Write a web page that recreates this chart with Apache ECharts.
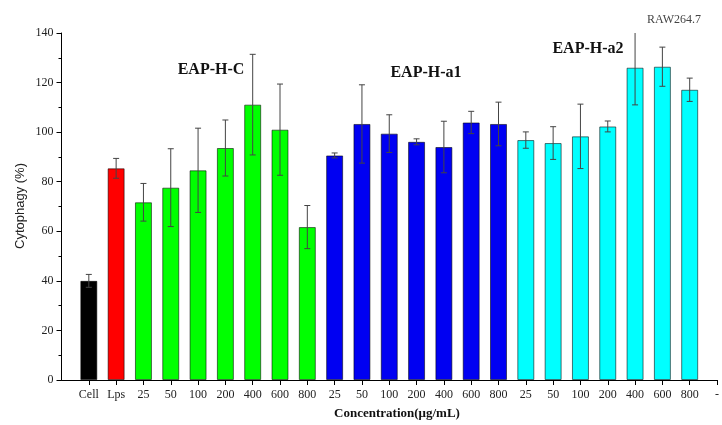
<!DOCTYPE html>
<html>
<head>
<meta charset="utf-8">
<script src="https://cdn.jsdelivr.net/npm/echarts@6/dist/echarts.min.js"></script>
<style>
  html, body { margin: 0; padding: 0; background: #fff; }
  #chart { width: 722px; height: 425px; }
</style>
</head>
<body>
<div id="chart"></div>
<script>
// Concentration categories (leading blank slot sits on the y axis, trailing "-" at the right edge)
const categories = ['', 'Cell', 'Lps',
  '25', '50', '100', '200', '400', '600', '800',
  '25', '50', '100', '200', '400', '600', '800',
  '25', '50', '100', '200', '400', '600', '800', '-'];

// Mean cytophagy (%) and standard deviation per group
const controlMean = [40, 85.4];
const controlErr  = [2.6, 4];
const eapHCMean   = [71.7, 77.6, 84.6, 93.6, 111.1, 101, 61.7];
const eapHCErr    = [7.6, 15.7, 17, 11.3, 20.3, 18.4, 8.7];
const eapHa1Mean  = [90.6, 103.3, 99.4, 96.1, 94, 103.9, 103.3];
const eapHa1Err   = [1, 15.8, 7.6, 1.2, 10.4, 4.5, 8.8];
const eapHa2Mean  = [96.8, 95.6, 98.3, 102.3, 126, 126.4, 117.1];
const eapHa2Err   = [3.3, 6.6, 13, 2.2, 15, 7.9, 4.7];

const yTicks = [0, 20, 40, 60, 80, 100, 120, 140];

const groupColors = {
  cell: '#000000', lps: '#ff0000', hc: '#00ff00', a1: '#0000f2', a2: '#00ffff'
};

// Assemble bar items and error-bar items in category order
const barData = [null];
const errData = [];
function pushGroup(means, errs, colors) {
  means.forEach((m, i) => {
    const idx = barData.length;
    barData.push({ value: m, itemStyle: { color: colors[i] } });
    errData.push([idx, m, errs[i]]);
  });
}
pushGroup(controlMean, controlErr, [groupColors.cell, groupColors.lps]);
pushGroup(eapHCMean, eapHCErr, eapHCMean.map(() => groupColors.hc));
pushGroup(eapHa1Mean, eapHa1Err, eapHa1Mean.map(() => groupColors.a1));
pushGroup(eapHa2Mean, eapHa2Err, eapHa2Mean.map(() => groupColors.a2));
barData.push(null);

const serif = '"Liberation Serif", "Times New Roman", serif';
const sans = '"Liberation Sans", Arial, sans-serif';

const chart = echarts.init(document.getElementById('chart'), null, { renderer: 'canvas' });
chart.setOption({
  animation: false,
  backgroundColor: '#ffffff',
  grid: { left: 61.5, top: 33, width: 660.3, bottom: 45 },
  xAxis: {
    type: 'category',
    data: categories,
    boundaryGap: false,
    axisLine: { lineStyle: { color: '#000', width: 1 } },
    axisTick: {
      show: true, inside: false, length: 5,
      interval: (i) => i > 0,
      lineStyle: { color: '#000' }
    },
    axisLabel: {
      interval: (i) => i > 0,
      fontFamily: serif, fontSize: 12, color: '#222', margin: 9
    },
    splitLine: { show: false }
  },
  yAxis: {
    type: 'value',
    min: yTicks[0], max: yTicks[yTicks.length - 1], interval: 20,
    axisLine: { show: true, lineStyle: { color: '#000', width: 1 } },
    axisTick: { show: true, length: 5, lineStyle: { color: '#000' } },
    minorTick: { show: true, splitNumber: 2, length: 3, lineStyle: { color: '#000' } },
    axisLabel: { fontFamily: serif, fontSize: 12, color: '#222', margin: 8 },
    splitLine: { show: false }
  },
  graphic: [
    { type: 'text', x: 20.5, y: 206, rotation: Math.PI / 2,
      style: { text: 'Cytophagy (%)', font: '13px ' + sans, fill: '#222', align: 'center', verticalAlign: 'middle' } },
    { type: 'text', x: 397, y: 414,
      style: { text: 'Concentration(μg/mL)', font: 'bold 13px ' + serif, fill: '#111', align: 'center', verticalAlign: 'middle' } },
    { type: 'text', x: 211, y: 70,
      style: { text: 'EAP-H-C', font: 'bold 16px ' + serif, fill: '#111', align: 'center', verticalAlign: 'middle' } },
    { type: 'text', x: 426, y: 73,
      style: { text: 'EAP-H-a1', font: 'bold 16px ' + serif, fill: '#111', align: 'center', verticalAlign: 'middle' } },
    { type: 'text', x: 588, y: 49,
      style: { text: 'EAP-H-a2', font: 'bold 16px ' + serif, fill: '#111', align: 'center', verticalAlign: 'middle' } },
    { type: 'text', x: 674, y: 20,
      style: { text: 'RAW264.7', font: '12px ' + serif, fill: '#444', align: 'center', verticalAlign: 'middle' } }
  ],
  series: [
    {
      type: 'bar',
      data: barData,
      barWidth: 17,
      itemStyle: { borderColor: 'rgba(0,0,0,0.55)', borderWidth: 1 },
      z: 2
    },
    {
      type: 'custom',
      data: errData,
      encode: { x: 0, y: 1 },
      clip: true,
      z: 3,
      renderItem: function (params, api) {
        const x = api.value(0), v = api.value(1), e = api.value(2);
        const hi = api.coord([x, v + e]);
        const lo = api.coord([x, v - e]);
        const cap = 3;
        const style = { stroke: '#444', lineWidth: 1 };
        return {
          type: 'group',
          children: [
            { type: 'line', shape: { x1: hi[0], y1: hi[1], x2: lo[0], y2: lo[1] }, style },
            { type: 'line', shape: { x1: hi[0] - cap, y1: hi[1], x2: hi[0] + cap, y2: hi[1] }, style },
            { type: 'line', shape: { x1: lo[0] - cap, y1: lo[1], x2: lo[0] + cap, y2: lo[1] }, style }
          ]
        };
      }
    }
  ]
});
</script>
</body>
</html>
